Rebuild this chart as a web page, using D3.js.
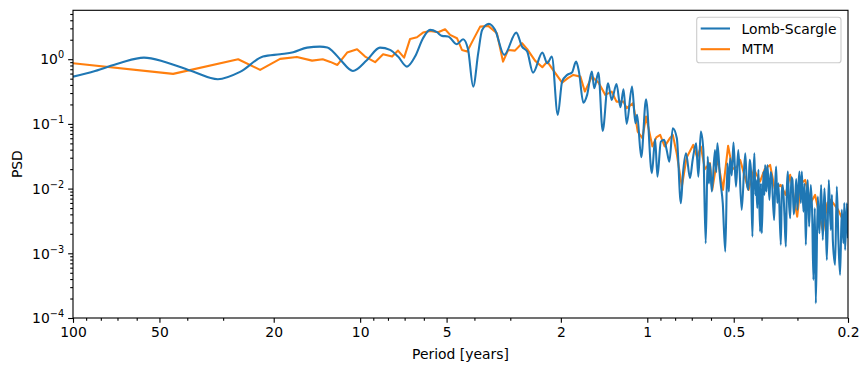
<!DOCTYPE html>
<html>
<head>
<meta charset="utf-8">
<script src="https://cdn.jsdelivr.net/npm/d3@7"></script>
<style>
  html, body { margin: 0; padding: 0; background: #fff; }
  svg { display: block; font-family: "DejaVu Sans", sans-serif; }
</style>
</head>
<body>
<svg id="chart" width="868" height="371"></svg>
<script>
// ---- data (period in years, PSD) ----
const lombScargle = [
  [100,0.538],[83.8,0.659],[68.6,0.877],[56.6,1.059],[47.8,0.908],[38.2,0.643],[31.3,0.491],
  [26.2,0.636],[21.8,1.097],[19.0,1.195],[17.1,1.283],[15.3,1.511],[13.8,1.565],[13.0,1.522],
  [12.4,1.297],[11.7,0.975],[10.6,0.659],[9.46,0.975],[8.53,1.511],[7.87,1.392],[7.38,1.097],
  [6.87,0.768],[6.44,1.097],[6.04,2.112],[5.71,2.837],[5.40,2.614],[5.19,2.292],[4.94,2.251],
  [4.60,1.705],[4.38,2.038],[4.21,1.428],[4.04,0.377],[3.88,1.238],[3.76,2.837],[3.56,3.512],
  [3.39,2.837],[3.15,1.166],[2.86,2.577],[2.73,1.565],[2.62,1.311],[2.50,0.621],[2.32,1.265],
  [2.23,0.868],[2.15,1.097],[2.05,0.138],[1.98,0.451],[1.90,0.572],[1.83,0.621],[1.77,0.918],
  [1.73,0.643],[1.67,0.213],[1.62,0.281],[1.56,0.643],[1.53,0.356],[1.48,0.621],[1.43,0.078],
  [1.37,0.426],[1.33,0.235],[1.28,0.415],[1.24,0.181],[1.21,0.344],[1.18,0.100],[1.13,0.377],
  [1.10,0.1025],[1.085,0.138],[1.05,0.0306],[1.01,0.241],[0.964,0.0173],[0.939,0.0586],
  [0.922,0.0153],[0.897,0.0532],[0.874,0.0566],[0.856,0.0396],[0.838,0.0261],[0.815,0.0858],
  [0.789,0.0601],[0.764,0.00595],[0.752,0.0163],[0.733,0.0352],[0.710,0.0145],[0.695,0.0278],
  [0.676,0.0503],[0.664,0.0153],[0.651,0.0760],[0.638,0.0396],[0.626,0.00143],[0.616,0.0312],
  [0.610,0.012],[0.605,0.0247],[0.596,0.0090],[0.581,0.0396],[0.5755,0.018],[0.570,0.0503],
  [0.558,0.0145],[0.546,0.00595],[0.535,0.00106],[0.526,0.0247],[0.520,0.009],[0.515,0.0295],
  [0.508,0.016],[0.501,0.0514],[0.491,0.01074],[0.482,0.0396],[0.469,0.00469],[0.456,0.0352],
  [0.450,0.012],[0.4445,0.00955],[0.440,0.028],[0.436,0.0207],[0.4304,0.00181],[0.427,0.015],
  [0.4236,0.0352],[0.4205,0.008],[0.4179,0.0136],[0.414,0.005],[0.4102,0.0195],[0.4046,0.00216],
  [0.402,0.012],[0.3992,0.00204],[0.394,0.0183],[0.391,0.008],[0.3887,0.0232],[0.385,0.009],
  [0.3816,0.0232],[0.3755,0.00669],[0.372,0.018],[0.3684,0.0145],[0.3617,0.00328],[0.3585,0.012],
  [0.3559,0.0219],[0.3525,0.006],[0.3494,0.0121],[0.3428,0.00135],[0.340,0.009],[0.3373,0.0114],
  [0.333,0.004],[0.3292,0.00127],[0.3265,0.010],[0.324,0.0183],[0.321,0.006],[0.318,0.00349],
  [0.315,0.015],[0.3122,0.0136],[0.309,0.004],[0.3055,0.00669],[0.303,0.014],[0.300,0.00469],
  [0.2975,0.011],[0.2952,0.0183],[0.292,0.006],[0.2896,0.0183],[0.2859,0.00441],[0.283,0.012],
  [0.2805,0.00135],[0.278,0.009],[0.2761,0.0136],[0.2732,0.00259],[0.2695,0.0114],[0.2665,0.004],
  [0.2639,0.000388],[0.261,0.005],[0.2589,0.000169],[0.2548,0.00752],[0.2515,0.00204],
  [0.2481,0.0114],[0.2448,0.00161],[0.2416,0.01014],[0.239,0.003],[0.237,0.00079],[0.2333,0.0136],
  [0.2296,0.0023],[0.2275,0.008],[0.2259,0.00161],[0.2218,0.000662],[0.2188,0.01074],
  [0.216,0.00161],[0.2131,0.000464],[0.2102,0.00469],[0.2075,0.00143],[0.206,0.006],
  [0.2047,0.00113],[0.2019,0.00595],[0.200,0.00171]
];
const mtm = [
  [100,0.868],[44.8,0.593],[26.6,1.0],[22.3,0.683],[19.0,1.011],[16.6,1.085],[14.7,0.951],
  [13.5,1.0],[12.7,0.908],[12.0,0.816],[11.1,1.265],[10.25,1.428],[9.61,1.097],[8.87,0.899],
  [8.32,1.195],[7.74,1.097],[7.38,1.358],[7.03,1.059],[6.70,2.06],[6.34,2.188],[6.04,2.577],
  [5.71,2.737],[5.35,2.614],[5.06,2.909],[4.86,2.375],[4.60,2.112],[4.42,1.392],[4.24,1.311],
  [4.04,1.988],[3.82,3.19],[3.58,3.27],[3.34,2.522],[3.18,0.918],[3.05,1.392],[2.89,1.358],
  [2.73,1.767],[2.62,1.428],[2.46,0.951],[2.32,0.752],[2.23,0.918],[2.13,0.683],[1.98,0.435],
  [1.89,0.509],[1.81,0.572],[1.71,0.538],[1.65,0.316],[1.56,0.538],[1.48,0.435],[1.40,0.281],
  [1.33,0.316],[1.28,0.221],[1.21,0.221],[1.18,0.175],[1.12,0.209],[1.08,0.076],[1.04,0.0601],
  [1.01,0.1297],[0.96,0.045],[0.93,0.062],[0.902,0.0676],[0.87,0.045],[0.833,0.0608],
  [0.815,0.0676],[0.79,0.035],[0.758,0.01074],[0.73,0.03],[0.692,0.0474],[0.67,0.03],
  [0.651,0.0446],[0.63,0.02],[0.605,0.0247],[0.594,0.00955],[0.57,0.03],[0.545,0.00955],
  [0.523,0.0457],[0.505,0.02],[0.487,0.0219],[0.475,0.0278],[0.444,0.00955],[0.425,0.02],
  [0.405,0.0128],[0.39,0.02],[0.3735,0.0232],[0.36,0.01],[0.343,0.0114],[0.33,0.008],
  [0.318,0.0163],[0.3006,0.00369],[0.292,0.012],[0.282,0.0136],[0.27,0.006],[0.2604,0.00799],
  [0.2443,0.00216],[0.236,0.006],[0.2296,0.00669],[0.2164,0.00469],[0.2047,0.00275],[0.200,0.00392]
];
const xTickValues = [100, 50, 20, 10, 5, 2, 1, 0.5, 0.2];
const xTickLabels = ["100", "50", "20", "10", "5", "2", "1", "0.5", "0.2"];
const yTickExponents = [-4, -3, -2, -1, 0];
const seriesNames = ["Lomb-Scargle", "MTM"];
const seriesColors = ["#1f77b4", "#ff7f0e"];

// ---- layout ----
const L = 73, R = 848, T = 10.3, B = 318;
const svg = d3.select("#chart");
const x = d3.scaleLog().domain([100, 0.2]).range([L, R]);
const y = d3.scaleLog().domain([1e-4, 5.7]).range([B, T]);
const fs = 13.9;
const major = 4.86, minor = 2.78;

svg.append("defs").append("clipPath").attr("id", "clip")
  .append("rect").attr("x", L).attr("y", T).attr("width", R - L).attr("height", B - T);

const line = d3.line().x(d => x(d[0])).y(d => y(d[1]));
const g = svg.append("g").attr("clip-path", "url(#clip)");
g.append("path").datum(mtm).attr("fill", "none").attr("stroke", seriesColors[1])
  .attr("stroke-width", 2.08).attr("stroke-linejoin", "round").attr("d", line);
g.append("path").datum(lombScargle).attr("fill", "none").attr("stroke", seriesColors[0])
  .attr("stroke-width", 2.08).attr("stroke-linejoin", "round")
  .attr("d", line.curve(d3.curveMonotoneX));

const xMinor = [], yMinor = [];
for (let k = -1; k <= 2; k++) for (let m = 1; m <= 9; m++) {
  const v = m * Math.pow(10, k);
  if (v >= 0.2 && v <= 100 && !xTickValues.some(t => Math.abs(t - v) < 1e-9)) xMinor.push(v);
}
for (let k = -4; k <= 0; k++) for (let m = 2; m <= 9; m++) {
  const v = m * Math.pow(10, k);
  if (v <= 5.7) yMinor.push(v);
}

const xAxis = svg.append("g").attr("transform", `translate(0,${B})`)
  .call(d3.axisBottom(x).tickValues(xTickValues).tickFormat((d, i) => xTickLabels[i])
    .tickSize(major).tickPadding(4.3).tickSizeOuter(0));
svg.append("g").attr("transform", `translate(0,${B})`)
  .call(d3.axisBottom(x).tickValues(xMinor).tickFormat("").tickSize(minor).tickSizeOuter(0))
  .select(".domain").remove();

svg.append("g").attr("transform", `translate(${L},0)`)
  .call(d3.axisLeft(y).tickValues(yTickExponents.map(e => Math.pow(10, e))).tickFormat("")
    .tickSize(major).tickSizeOuter(0));
svg.append("g").attr("transform", `translate(${L},0)`)
  .call(d3.axisLeft(y).tickValues(yMinor).tickFormat("").tickSize(minor).tickSizeOuter(0))
  .select(".domain").remove();

svg.selectAll(".tick line").attr("stroke", "#000").attr("stroke-width", 1.11);
svg.selectAll(".domain").remove();
xAxis.selectAll("text").attr("font-size", fs).attr("fill", "#000").attr("font-family", "DejaVu Sans");

yTickExponents.forEach(e => {
  const t = svg.append("text").attr("x", L - major - 4.0).attr("y", y(Math.pow(10, e)) + 5.2)
    .attr("text-anchor", "end").attr("font-size", fs).attr("fill", "#000");
  t.append("tspan").text("10");
  t.append("tspan").attr("dy", -6).attr("font-size", fs * 0.7).text(e < 0 ? "\u2212" + (-e) : String(e));
});

svg.append("rect").attr("x", L).attr("y", T).attr("width", R - L).attr("height", B - T)
  .attr("fill", "none").attr("stroke", "#000").attr("stroke-width", 1.11);

svg.append("text").attr("x", (L + R) / 2).attr("y", 358.5).attr("text-anchor", "middle")
  .attr("font-size", fs).text("Period [years]");
svg.append("text").attr("transform", `translate(21.5,${(T + B) / 2}) rotate(-90)`)
  .attr("text-anchor", "middle").attr("font-size", fs).text("PSD");

const lg = svg.append("g");
lg.append("rect").attr("x", 696.7).attr("y", 17.3).attr("width", 144.3).attr("height", 45.4)
  .attr("rx", 2.8).attr("fill", "#fff").attr("fill-opacity", 0.8).attr("stroke", "#cccccc").attr("stroke-width", 1.11);
seriesNames.forEach((n, i) => {
  const yy = 28.5 + i * 20.7;
  lg.append("line").attr("x1", 700.7).attr("x2", 730).attr("y1", yy).attr("y2", yy)
    .attr("stroke", seriesColors[i]).attr("stroke-width", 2.08);
  lg.append("text").attr("x", 741.5).attr("y", yy + 5).attr("font-size", fs).text(n);
});
</script>
</body>
</html>
